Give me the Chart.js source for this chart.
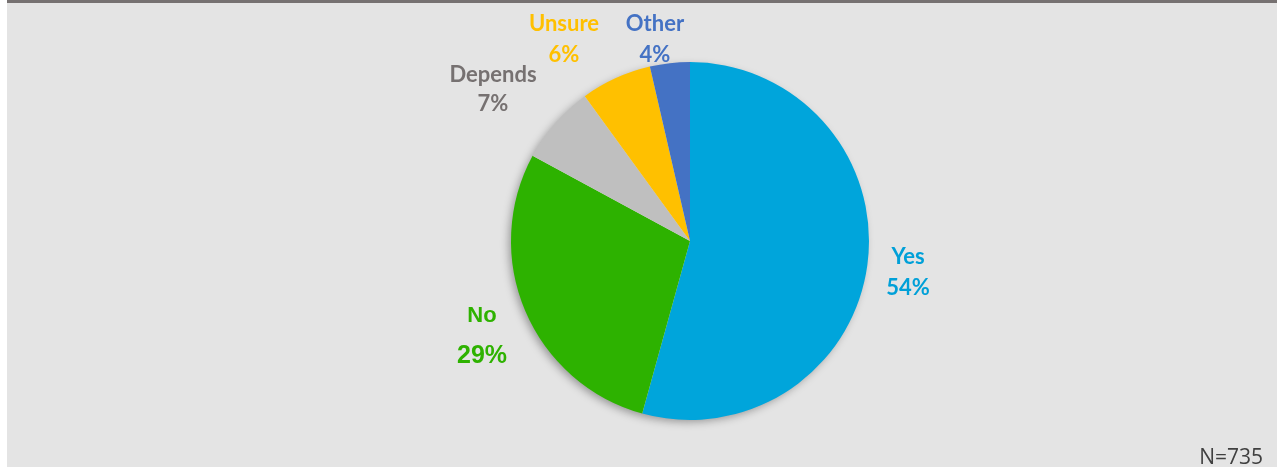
<!DOCTYPE html>
<html>
<head>
<meta charset="utf-8">
<script src="https://cdn.jsdelivr.net/npm/chart.js@4"></script>
<style>
    html, body { margin: 0; padding: 0; background: #ffffff; }
    #wrap {
        position: absolute; left: 7px; top: 0;
        width: 1270px; height: 464px;
        border-top: 3px solid #767171;
        background: #e4e4e4;
    }
</style>
</head>
<body>
<div id="wrap"><canvas id="pie-chart" width="1270" height="464"></canvas></div>
<script>
// answers, clockwise from 12 o'clock
const categories = ['Yes', 'No', 'Depends', 'Unsure', 'Other'];
const shares = [54.3, 28.6, 7.1, 6.4, 3.6];
const shareLabels = ['54%', '29%', '7%', '6%', '4%'];
const sampleNote = 'N=735';

const sliceColors = ['#00a5db', '#2db200', '#bfbfbf', '#ffc000', '#4472c4'];
const textColors = ['#00a0d8', '#2eb200', '#767171', '#ffc000', '#4472c4'];

// label placement relative to the pie centre (dx, dy, line gap) + fonts
const labelStyle = [
    { dx: 218, dy: 31, gap: 31, font: 'bold 22px Lato' },
    { dx: -208, dy: 95, gap: 41, font: 'bold 22px "Liberation Sans"', font2: 'bold 25px "Liberation Sans"' },
    { dx: -197, dy: -152, gap: 29, font: 'bold 22px Lato' },
    { dx: -126, dy: -202, gap: 31, font: 'bold 22px Lato' },
    { dx: -35, dy: -202, gap: 31, font: 'bold 22px Lato' }
];

const pieShadow = {
    id: 'pieShadow',
    beforeDatasetsDraw(chart) {
        const arc = chart.getDatasetMeta(0).data[0];
        if (!arc) return;
        const ctx = chart.ctx;
        ctx.save();
        ctx.shadowColor = 'rgba(0,0,0,0.35)';
        ctx.shadowBlur = 9;
        ctx.shadowOffsetX = -3;
        ctx.shadowOffsetY = 3;
        ctx.fillStyle = '#e4e4e4';
        ctx.beginPath();
        ctx.arc(arc.x, arc.y, arc.outerRadius - 1, 0, Math.PI * 2);
        ctx.fill();
        ctx.restore();
    }
};

const sliceLabels = {
    id: 'sliceLabels',
    afterDatasetsDraw(chart) {
        const meta = chart.getDatasetMeta(0);
        const ctx = chart.ctx;
        const cx = meta.data[0].x, cy = meta.data[0].y;
        ctx.save();
        ctx.textAlign = 'center';
        ctx.textBaseline = 'middle';
        categories.forEach((name, i) => {
            const s = labelStyle[i];
            ctx.fillStyle = textColors[i];
            ctx.font = s.font;
            ctx.fillText(name, cx + s.dx, cy + s.dy - s.gap / 2);
            ctx.font = s.font2 || s.font;
            ctx.fillText(shareLabels[i], cx + s.dx, cy + s.dy + s.gap / 2);
        });
        ctx.font = '21px "Open Sans"';
        ctx.fillStyle = '#404040';
        ctx.textAlign = 'right';
        ctx.textBaseline = 'alphabetic';
        ctx.fillText(sampleNote, chart.width - 14, chart.height - 3);
        ctx.restore();
    }
};

let ctx = document.getElementById('pie-chart');
new Chart(ctx, {
    type: 'pie',
    plugins: [pieShadow, sliceLabels],
    data: {
        labels: categories,
        datasets: [{
            data: shares,
            backgroundColor: sliceColors,
            borderWidth: 0
        }]
    },
    options: {
        responsive: false,
        animation: false,
        layout: { padding: { top: 59, bottom: 47, left: 96, right: 0 } },
        plugins: {
            legend: { display: false },
            tooltip: { enabled: false }
        }
    }
});
</script>
</body>
</html>
